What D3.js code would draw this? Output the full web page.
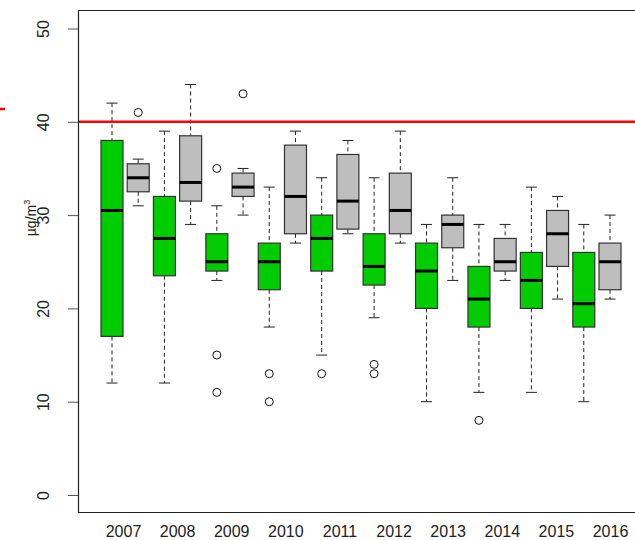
<!DOCTYPE html>
<html><head><meta charset="utf-8">
<script src="https://cdn.jsdelivr.net/npm/d3@7"></script>
<style>body{margin:0;background:#fff}svg{display:block}</style>
</head><body>
<script>
const years = ["2007","2008","2009","2010","2011","2012","2013","2014","2015","2016"];
// [lower whisker, Q1, median, Q3, upper whisker]
const greenStats = [
  [12,17,30.5,38,42],[12,23.5,27.5,32,39],[23,24,25,28,31],[18,22,25,27,33],[15,24,27.5,30,34],
  [19,22.5,24.5,28,34],[10,20,24,27,29],[11,18,21,24.5,29],[11,20,23,26,33],[10,18,20.5,26,29]
];
const greenOutliers = [[],[],[35,15,11],[13,10],[13],[14,13],[],[8],[],[]];
const grayStats = [
  [31,32.5,34,35.5,36],[29,31.5,33.5,38.5,44],[30,32,33,34.5,35],[27,28,32,37.5,39],[28,28.5,31.5,36.5,38],
  [27,28,30.5,34.5,39],[23,26.5,29,30,34],[23,24,25,27.5,29],[21,24.5,28,30.5,32],[21,22,25,27,30]
];
const grayOutliers = [[41],[],[43],[],[],[],[],[],[],[]];
const yTicks = [0,10,20,30,40,50];
const limitValue = 40;

const W = 635, H = 540;
const svg = d3.select("body").append("svg").attr("width", W).attr("height", H);
const y = d3.scaleLinear().domain([0,50]).range([495,28.5]);
const xBox = d3.scaleLinear().domain([0,19]).range([112,610]);
const xLab = d3.scaleLinear().domain([0,9]).range([123,610]);
const boxW = 22;
const font = "'Liberation Sans', Arial, sans-serif";

// boxes
const boxes = [];
years.forEach((yr,i)=>{
  boxes.push({s:greenStats[i], o:greenOutliers[i], idx:2*i, fill:"#00CC00"});
  boxes.push({s:grayStats[i], o:grayOutliers[i], idx:2*i+1, fill:"#BEBEBE"});
});
const g = svg.append("g");
boxes.forEach(b=>{
  const cx = xBox(b.idx);
  const [lo,q1,md,q3,hi] = b.s;
  const wh = g.append("g").attr("stroke","#222").attr("stroke-width",1);
  wh.append("line").attr("x1",cx).attr("x2",cx).attr("y1",y(hi)).attr("y2",y(q3)).attr("stroke-dasharray","4,3");
  wh.append("line").attr("x1",cx).attr("x2",cx).attr("y1",y(q1)).attr("y2",y(lo)).attr("stroke-dasharray","4,3");
  wh.append("line").attr("x1",cx-boxW/4).attr("x2",cx+boxW/4).attr("y1",y(hi)).attr("y2",y(hi));
  wh.append("line").attr("x1",cx-boxW/4).attr("x2",cx+boxW/4).attr("y1",y(lo)).attr("y2",y(lo));
  g.append("rect").attr("x",cx-boxW/2).attr("y",y(q3)).attr("width",boxW).attr("height",y(q1)-y(q3))
    .attr("fill",b.fill).attr("stroke","#333").attr("stroke-width",1.2);
  g.append("line").attr("x1",cx-boxW/2).attr("x2",cx+boxW/2).attr("y1",y(md)).attr("y2",y(md))
    .attr("stroke","#000").attr("stroke-width",3);
  b.o.forEach(v=>{
    g.append("circle").attr("cx",cx).attr("cy",y(v)).attr("r",4)
      .attr("fill","none").attr("stroke","#111").attr("stroke-width",1);
  });
});

// limit line
svg.append("line").attr("x1",78).attr("x2",W).attr("y1",y(limitValue)).attr("y2",y(limitValue))
  .attr("stroke","#FF0000").attr("stroke-width",2.5);
svg.append("line").attr("x1",0).attr("x2",5).attr("y1",109).attr("y2",109)
  .attr("stroke","#FF0000").attr("stroke-width",2.5);

// frame
svg.append("path").attr("d",`M${W},10.5H78.5V512.5H${W}`).attr("fill","none").attr("stroke","#222").attr("stroke-width",1.2);

// y axis
const yAxis = d3.axisLeft(y).tickValues(yTicks).tickSize(10).tickFormat(d3.format("d"));
const ya = svg.append("g").attr("transform","translate(78,0)").call(yAxis);
ya.select(".domain").remove();
ya.selectAll(".tick line").attr("stroke","#555");
ya.selectAll(".tick text").attr("font-family",font).attr("font-size",16).attr("fill","#222")
  .attr("transform",function(d){return `rotate(-90,-33,0)`;})
  .attr("x",-33).attr("dy","0").attr("text-anchor","middle").attr("dominant-baseline","middle");

// x labels
const xAxis = d3.axisBottom(xLab).tickValues(d3.range(years.length)).tickSize(0).tickFormat(i=>years[i]);
const xa = svg.append("g").attr("transform","translate(0,513)").call(xAxis);
xa.select(".domain").remove();
xa.selectAll(".tick text").attr("font-family",font).attr("font-size",16).attr("fill","#222").attr("dy","0").attr("y",24);

// y title
const t = svg.append("text").attr("transform","translate(36,218) rotate(-90)").attr("text-anchor","middle")
  .attr("font-family",font).attr("font-size",14).attr("fill","#222");
t.append("tspan").text("µg/m");
t.append("tspan").attr("font-size",9).attr("dy",-6).text("3");
</script>
</body></html>
